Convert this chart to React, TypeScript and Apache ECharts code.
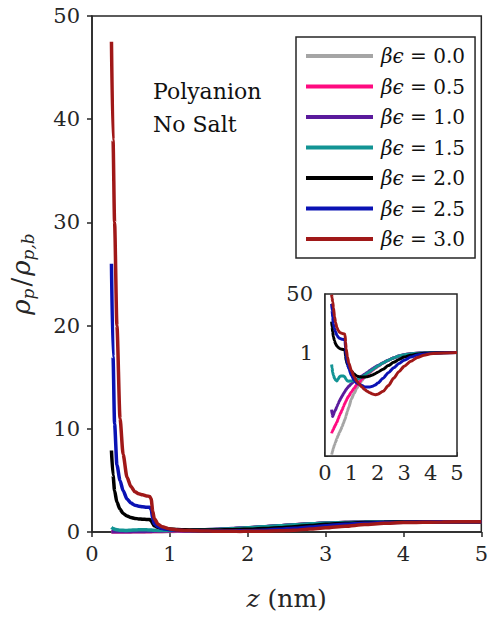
import React, { useEffect, useRef } from 'react';
import * as echarts from 'echarts';

const zValues = [0.25, 0.27, 0.29, 0.32, 0.36, 0.4, 0.45, 0.5, 0.55, 0.6, 0.65, 0.7, 0.74, 0.76, 0.78, 0.8, 0.85, 0.9, 1.0, 1.1, 1.2, 1.3, 1.4, 1.5, 1.6, 1.7, 1.8, 1.9, 2.0, 2.2, 2.4, 2.6, 2.8, 3.0, 3.25, 3.5, 3.75, 4.0, 4.5, 5.0];

const betaEpsLabels = ['0.0', '0.5', '1.0', '1.5', '2.0', '2.5', '3.0'];

const rhoEps00 = [0.0011, 0.0012, 0.0014, 0.0017, 0.0021, 0.0025, 0.0032, 0.004, 0.0048, 0.0058, 0.0072, 0.009, 0.011, 0.012, 0.013, 0.015, 0.02, 0.026, 0.045, 0.065, 0.09, 0.12, 0.155, 0.19, 0.225, 0.265, 0.305, 0.35, 0.395, 0.5, 0.6, 0.7, 0.79, 0.86, 0.92, 0.96, 0.98, 0.99, 1.0, 1.0];
const rhoEps05 = [0.0045, 0.005, 0.0055, 0.006, 0.007, 0.008, 0.0095, 0.012, 0.015, 0.018, 0.022, 0.027, 0.032, 0.034, 0.037, 0.04, 0.048, 0.055, 0.072, 0.092, 0.115, 0.14, 0.17, 0.2, 0.235, 0.27, 0.31, 0.355, 0.4, 0.5, 0.6, 0.7, 0.79, 0.86, 0.92, 0.96, 0.98, 0.99, 1.0, 1.0];
const rhoEps10 = [0.022, 0.016, 0.014, 0.016, 0.019, 0.022, 0.027, 0.033, 0.04, 0.047, 0.055, 0.064, 0.072, 0.076, 0.08, 0.085, 0.095, 0.105, 0.125, 0.145, 0.165, 0.185, 0.21, 0.235, 0.265, 0.3, 0.34, 0.38, 0.42, 0.51, 0.6, 0.7, 0.79, 0.86, 0.92, 0.96, 0.98, 0.99, 1.0, 1.0];
const rhoEps15 = [0.45, 0.35, 0.27, 0.22, 0.18, 0.16, 0.15, 0.17, 0.2, 0.21, 0.21, 0.21, 0.2, 0.19, 0.18, 0.165, 0.15, 0.148, 0.15, 0.155, 0.165, 0.18, 0.2, 0.22, 0.25, 0.28, 0.32, 0.36, 0.41, 0.5, 0.6, 0.7, 0.8, 0.87, 0.93, 0.96, 0.98, 0.99, 1.0, 1.0];
const rhoEps20 = [7.9, 5.5, 4.0, 2.9, 2.2, 1.8, 1.55, 1.4, 1.32, 1.27, 1.24, 1.22, 1.2, 1.1, 0.8, 0.6, 0.45, 0.37, 0.29, 0.24, 0.21, 0.2, 0.195, 0.195, 0.2, 0.21, 0.225, 0.245, 0.27, 0.33, 0.42, 0.52, 0.63, 0.74, 0.84, 0.91, 0.95, 0.97, 0.995, 1.0];
const rhoEps25 = [26, 17, 10.5, 6.5, 5, 4, 3.2, 2.8, 2.6, 2.5, 2.45, 2.4, 2.4, 2.2, 1.3, 0.8, 0.5, 0.35, 0.22, 0.16, 0.13, 0.12, 0.11, 0.1, 0.1, 0.1, 0.105, 0.115, 0.13, 0.18, 0.26, 0.36, 0.48, 0.6, 0.74, 0.85, 0.91, 0.95, 0.99, 1.0];
const rhoEps30 = [47.5, 38, 30, 20, 11, 7.5, 5.3, 4.4, 3.9, 3.7, 3.6, 3.5, 3.45, 3.2, 2.0, 1.3, 0.75, 0.5, 0.3, 0.2, 0.15, 0.12, 0.1, 0.085, 0.075, 0.068, 0.063, 0.06, 0.062, 0.075, 0.11, 0.18, 0.28, 0.4, 0.56, 0.72, 0.84, 0.92, 0.98, 1.0];

const allSeries = [rhoEps00, rhoEps05, rhoEps10, rhoEps15, rhoEps20, rhoEps25, rhoEps30];
const colors = ['#a5a5a5', '#ff0a80', '#5a1a9c', '#129494', '#000000', '#0a12b4', '#a01818'];

const insetYLabelValues = [1, 50];
const insetMinorTickValues: number[] = [];
[0.001, 0.01, 0.1, 1, 10].forEach((d) => {
  for (let k = 1; k <= 9; k++) {
    const v = +(d * k).toPrecision(3);
    if (v <= 50) insetMinorTickValues.push(v);
  }
});
insetMinorTickValues.push(50);

const FONT = 'DejaVu Serif';
const AX = '#262626';

export default function App() {
  const ref = useRef<HTMLDivElement>(null);
  useEffect(() => {
    document.body.style.margin = '0';
    const chart = echarts.init(ref.current!, null, { renderer: 'svg' });
    const names = betaEpsLabels.map((b) => `βϵ = ${b}`);
    const mkData = (vals: number[]) => zValues.map((z, i) => [z, vals[i]]);
    const axisLine = { show: true, lineStyle: { color: AX, width: 1.5 } };
    const label = { fontSize: 21, fontFamily: FONT, color: AX };

    const mainSeries = allSeries.map((vals, i) => ({
      name: names[i],
      type: 'line',
      xAxisIndex: 0,
      yAxisIndex: 0,
      data: mkData(vals),
      showSymbol: false,
      smooth: 0.25,
      smoothMonotone: 'x',
      lineStyle: { color: colors[i], width: 3.5 },
      itemStyle: { color: colors[i] },
      clip: true,
    }));
    const insetSeries = allSeries.map((vals, i) => ({
      name: names[i],
      type: 'line',
      xAxisIndex: 1,
      yAxisIndex: 1,
      data: mkData(vals),
      showSymbol: false,
      smooth: 0.25,
      smoothMonotone: 'x',
      lineStyle: { color: colors[i], width: 3 },
      itemStyle: { color: colors[i] },
      clip: true,
      z: 5,
    }));

    chart.setOption({
      animation: false,
      backgroundColor: '#fff',
      grid: [
        { left: 92, top: 16, width: 394, height: 516, show: true, borderColor: AX, borderWidth: 1.5, backgroundColor: 'transparent' },
        { left: 325, top: 294, width: 132, height: 162, show: true, borderColor: AX, borderWidth: 1.5, backgroundColor: '#fff', z: 4 },
      ],
      xAxis: [
        {
          gridIndex: 0, type: 'value', min: 0, max: 5, interval: 1,
          axisLine, axisTick: { show: true, inside: false, length: 5, lineStyle: { color: AX, width: 1.5 } },
          axisLabel: { ...label, margin: 11 },
          splitLine: { show: false },
          name: '{i|z}{n| (nm)}', nameLocation: 'middle', nameGap: 54,
          nameTextStyle: { rich: { i: { fontSize: 25, fontFamily: FONT, fontStyle: 'italic', color: AX }, n: { fontSize: 25, fontFamily: FONT, color: AX } } },
        },
        {
          gridIndex: 1, type: 'value', min: 0, max: 5, interval: 1,
          axisLine, axisTick: { show: true, inside: true, length: 4, lineStyle: { color: AX, width: 1.5 } },
          axisLabel: { ...label, margin: 6 },
          splitLine: { show: false },
        },
      ],
      yAxis: [
        {
          gridIndex: 0, type: 'value', min: 0, max: 50, interval: 10,
          axisLine, axisTick: { show: true, inside: false, length: 5, lineStyle: { color: AX, width: 1.5 } },
          axisLabel: { ...label, margin: 12 },
          splitLine: { show: false },
          name: '{r|ρ}{s|p}{d|/}{r|ρ}{s|p,b}', nameLocation: 'middle', nameGap: 56, nameRotate: 90,
          nameTextStyle: {
            rich: {
              r: { fontSize: 26, fontFamily: FONT, fontStyle: 'italic', color: AX, lineHeight: 30 },
              d: { fontSize: 26, fontFamily: FONT, color: AX, lineHeight: 30, padding: [0, 2, 0, 2] },
              s: { fontSize: 17, fontFamily: FONT, fontStyle: 'italic', color: AX, lineHeight: 14, verticalAlign: 'bottom' },
            },
          },
        },
        {
          gridIndex: 1, type: 'log', logBase: 10, min: 0.001, max: 50,
          axisLine,
          axisTick: { show: true, inside: true, length: 3, customValues: insetMinorTickValues, lineStyle: { color: AX, width: 1 } },
          axisLabel: { ...label, margin: 12, customValues: insetYLabelValues, formatter: (v: number) => String(v) },
          splitLine: { show: false },
          minorTick: { show: false },
        },
      ],
      legend: {
        orient: 'vertical', left: 296, top: 37,
        padding: [9, 10, 9, 10], itemGap: 10.5,
        itemWidth: 67, itemHeight: 4, icon: 'rect',
        borderColor: AX, borderWidth: 1.5, backgroundColor: '#fff',
        data: names,
        formatter: (name: string) => {
          const parts = name.split(' = ');
          return `{g|${parts[0]}}{n| = ${parts[1]}}`;
        },
        textStyle: {
          padding: [0, 0, 0, 3],
          rich: {
            g: { fontSize: 20, fontFamily: FONT, fontStyle: 'italic', color: '#111' },
            n: { fontSize: 20, fontFamily: FONT, color: '#111' },
          },
        },
      },
      graphic: [
        { type: 'text', left: 153, top: 75, z: 10, style: { text: 'Polyanion\nNo Salt', fontSize: 22, fontFamily: FONT, lineHeight: 33, fill: '#111' } },
      ],
      series: [...mainSeries, ...insetSeries],
    });
    return () => chart.dispose();
  }, []);
  return <div ref={ref} style={{ position: 'fixed', left: 0, top: 0, width: 491, height: 617 }} />;
}
